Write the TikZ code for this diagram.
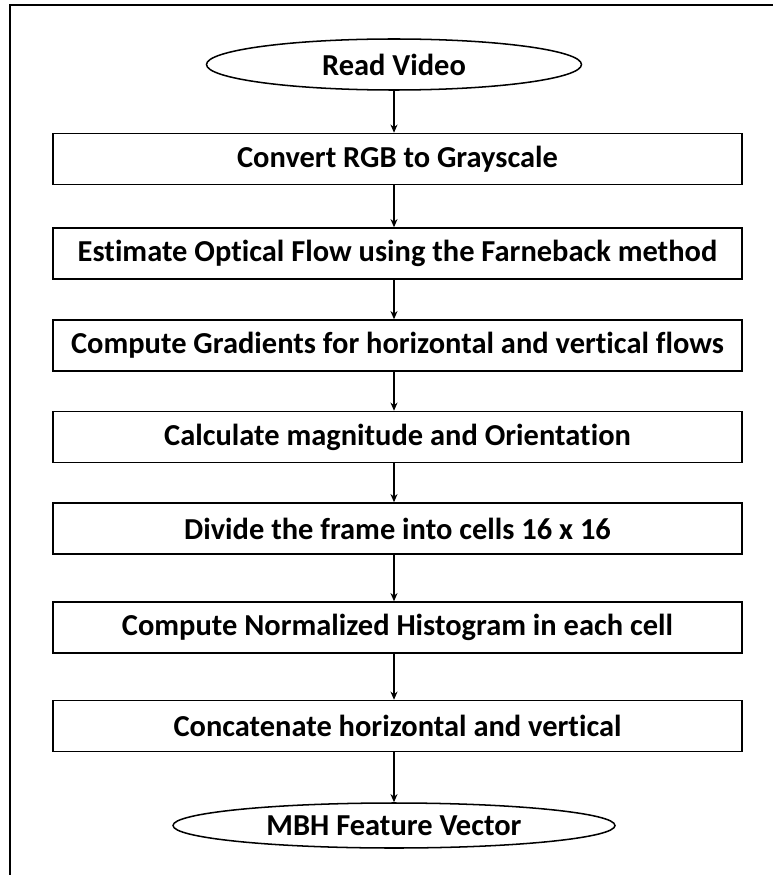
\documentclass[tikz,border=0pt]{standalone}
\usepackage{fontspec}
\setmainfont{Carlito}[Ligatures={NoCommon}]
\usepackage{tikz}
\usetikzlibrary{shapes.geometric,arrows.meta}

\begin{document}
\begin{tikzpicture}[x=0.03cm, y=-0.03cm,
	procbox/.style={draw, line width=1.3pt, minimum width=20.67cm, minimum height=1.53cm, inner sep=0pt, font=\fontsize{26}{30}\selectfont\bfseries},
	termnode/.style={draw, ellipse, line width=1.3pt, inner sep=0pt, font=\fontsize{26}{30}\selectfont\bfseries},
	flow/.style={-{Stealth[length=7pt, width=6pt]}, line width=0.9pt}]

\useasboundingbox (0,0) rectangle (773,875);

% outer frame
\draw[line width=1.3pt] (10,875)--(10,5)--(773,5);

\node[termnode, minimum width=11.25cm, minimum height=1.53cm] (start) at (394,64.5) {Read Video};

\foreach \n/\y/\t in {s1/159/Convert RGB to Grayscale,
		s2/253.5/Estimate Optical Flow using the Farneback method,
		s3/345.5/Compute Gradients for horizontal and vertical flows,
		s4/437/Calculate magnitude and Orientation,
		s5/528.5/Divide the frame into cells 16 x 16,
		s6/627.5/Compute Normalized Histogram in each cell,
		s7/726/Concatenate horizontal and vertical}{
	\node[procbox] (\n) at (397.5,\y) {\t};
}

\node[termnode, minimum width=13.26cm, minimum height=1.35cm] (stop) at (394,825.5) {MBH Feature Vector};

\foreach \a/\b in {start/s1, s1/s2, s2/s3, s3/s4, s4/s5, s5/s6, s6/s7}{
	\draw[flow] (\a.south -| start.south) -- (\b.north -| start.south);
}
\draw[flow] (s7.south -| start.south) -- (stop.north);

\end{tikzpicture}
\end{document}
